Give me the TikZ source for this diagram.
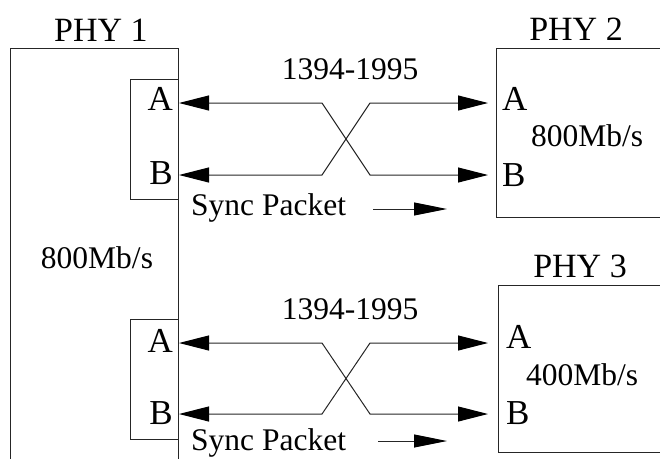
\documentclass[tikz,border=0pt]{standalone}
\usepackage{fontspec}
\setmainfont{Liberation Serif}
\usetikzlibrary{arrows.meta}
\begin{document}
\begin{tikzpicture}[x=1pt,y=-1pt,
 ln/.style={draw=black!85, line width=1.1pt},
 box/.style={ln, inner sep=0, anchor=north west},
 lbl/.style={inner sep=0, font=\fontsize{31.5}{36}\selectfont, anchor=base},
 portlbl/.style={inner sep=0, font=\fontsize{35}{40}\selectfont},
 ttl/.style={inner sep=0, font=\fontsize{34}{40}\selectfont, anchor=base},
 tip/.style={Triangle[length=30pt,width=15pt,fill=black,color=black]},
 link/.style={ln, line width=1pt, {Triangle[length=30pt,width=15pt,fill=black,color=black]}-{Triangle[length=30pt,width=15pt,fill=black,color=black]}},
 sync/.style={ln, line width=1pt, -{Triangle[length=33pt,width=13pt,fill=black,color=black]}}]
\useasboundingbox (0,0) rectangle (660,458);
\clip (0,0) rectangle (660,458);
% boxes
\node[box, minimum width=168pt, minimum height=422pt] (phy1) at (10,48) {};
\node[box, minimum width=180pt, minimum height=169pt] (phy2) at (496,48) {};
\node[box, minimum width=180pt, minimum height=167pt] (phy3) at (498,285) {};
\node[box, minimum width=48pt, minimum height=120pt] (port1) at (130,79) {};
\node[box, minimum width=48pt, minimum height=120pt] (port2) at (130,319) {};
% titles
\node[ttl] (t1) at (101,41) {PHY 1};
\node[ttl] (t2) at (576,40) {PHY 2};
\node[ttl] (t3) at (580,277) {PHY 3};
% port labels
\node[portlbl, anchor=base east] (a1) at (173,110) {A};
\node[portlbl, anchor=base east] (b1) at (173,184) {B};
\node[portlbl, anchor=base east] (a1b) at (173,352) {A};
\node[portlbl, anchor=base east] (b1b) at (173,424) {B};
\node[portlbl, anchor=base west] (a2) at (502,110) {A};
\node[portlbl, anchor=base west] (b2) at (502,186) {B};
\node[portlbl, anchor=base west] (a3) at (506,348) {A};
\node[portlbl, anchor=base west] (b3) at (506,424) {B};
% rates
\node[lbl] (r1) at (97,268) {800Mb/s};
\node[lbl] (r2) at (587,146) {800Mb/s};
\node[lbl] (r3) at (582,385) {400Mb/s};
% cable labels
\node[lbl] (c1) at (350,79) {1394-1995};
\node[lbl] (c2) at (350,319) {1394-1995};
\node[lbl, anchor=base west] (s1) at (191,215) {Sync Packet};
\node[lbl, anchor=base west] (s2) at (191,450) {Sync Packet};
% connector coordinates (top)
\coordinate (LA1) at (179,103);
\coordinate (LB1) at (179,175);
\coordinate (RA1) at (488,103);
\coordinate (RB1) at (488,175);
\coordinate (kA1) at (322,103);
\coordinate (kB1) at (322,175);
\coordinate (jA1) at (370,103);
\coordinate (jB1) at (370,175);
% connector coordinates (bottom)
\coordinate (LA2) at (179,343);
\coordinate (LB2) at (179,414);
\coordinate (RA2) at (488,343);
\coordinate (RB2) at (488,414);
\coordinate (kA2) at (322,343);
\coordinate (kB2) at (322,414);
\coordinate (jA2) at (370,343);
\coordinate (jB2) at (370,414);
% links
\draw[link] (LA1) -- (kA1) -- (jB1) -- (RB1);
\draw[link] (LB1) -- (kB1) -- (jA1) -- (RA1);
\draw[link] (LA2) -- (kA2) -- (jB2) -- (RB2);
\draw[link] (LB2) -- (kB2) -- (jA2) -- (RA2);
% sync arrows
\coordinate (ss1) at (373,209);
\coordinate (se1) at (447,209);
\coordinate (ss2) at (378,441);
\coordinate (se2) at (447,441);
\draw[sync] (ss1) -- (se1);
\draw[sync] (ss2) -- (se2);
\end{tikzpicture}
\end{document}
